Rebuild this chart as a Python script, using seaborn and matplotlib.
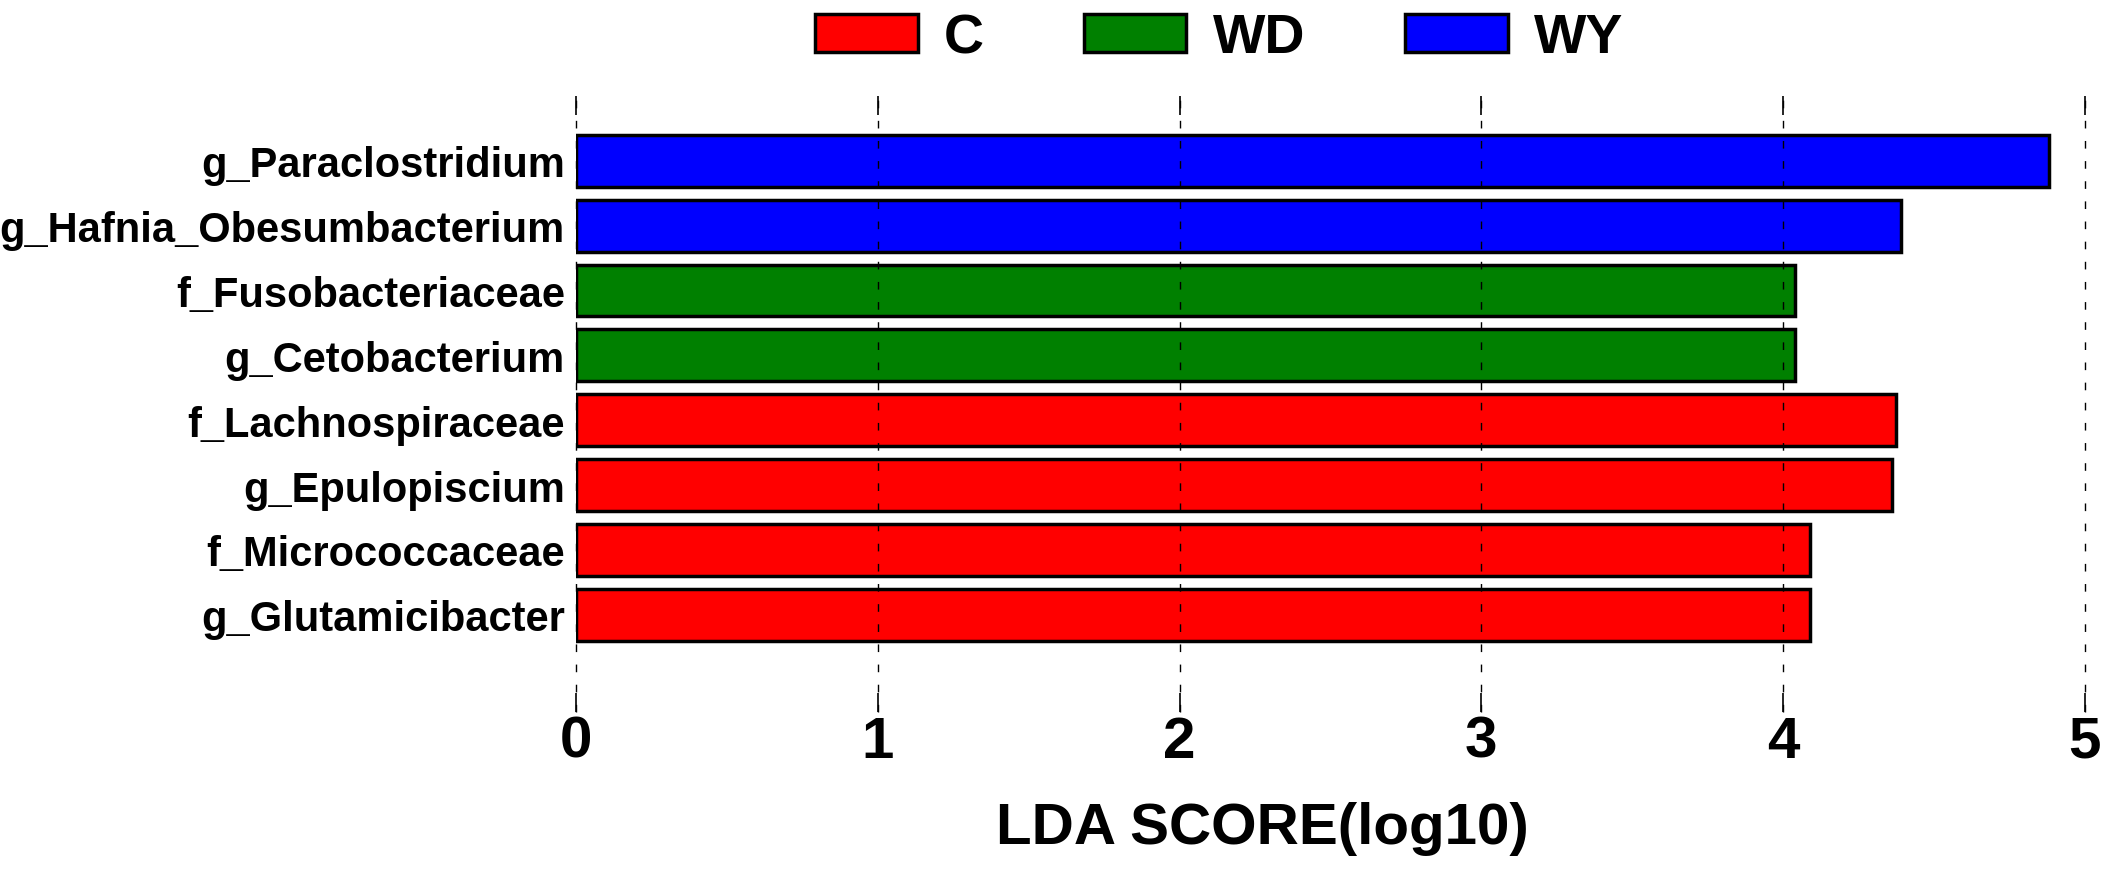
"""LEfSe LDA score bar chart."""

import matplotlib

matplotlib.use("Agg")
import matplotlib.pyplot as plt
import pandas as pd
import seaborn as sns
from matplotlib.patches import Patch

TAXA = [
    "g_Paraclostridium",
    "g_Hafnia_Obesumbacterium",
    "f_Fusobacteriaceae",
    "g_Cetobacterium",
    "f_Lachnospiraceae",
    "g_Epulopiscium",
    "f_Micrococcaceae",
    "g_Glutamicibacter",
]
LDA_SCORES = [4.88, 4.39, 4.04, 4.04, 4.375, 4.36, 4.09, 4.088]
GROUPS = ["WY", "WY", "WD", "WD", "C", "C", "C", "C"]

GROUP_ORDER = ["C", "WD", "WY"]
COLORS = {"C": "#ff0000", "WD": "#008000", "WY": "#0000ff"}
X_TICKS = [0, 1, 2, 3, 4, 5]

FONT = ["Liberation Sans", "DejaVu Sans"]


def main():
    sns.set_theme(style="white")
    plt.rcParams["font.family"] = FONT
    plt.rcParams["font.weight"] = "bold"
    for key in ("text.color", "axes.labelcolor", "xtick.color", "ytick.color"):
        plt.rcParams[key] = "black"

    df = pd.DataFrame({"taxon": TAXA, "score": LDA_SCORES, "group": GROUPS})

    fig = plt.figure(figsize=(21.09, 8.7), dpi=100)
    ax = fig.add_axes([0.2731, 0.1805, 0.9886 - 0.2731, 0.8885 - 0.1805])

    sns.barplot(
        data=df,
        x="score",
        y="taxon",
        hue="group",
        hue_order=GROUP_ORDER,
        palette=COLORS,
        saturation=1,
        dodge=False,
        width=0.8,
        edgecolor="black",
        linewidth=2.5,
        legend=False,
        ax=ax,
    )

    ax.set_xlim(0, 5)
    ax.set_ylim(8.5, -1.0)
    ax.set_xticks(X_TICKS)
    ax.set_xticklabels([str(t) for t in X_TICKS], fontsize=42, fontweight="bold")
    ax.tick_params(
        axis="x",
        direction="in",
        length=14,
        width=1.2,
        color="black",
        top=True,
        bottom=True,
        pad=2,
    )
    ax.tick_params(axis="y", length=0, pad=8, labelsize=30)
    for lab in ax.get_yticklabels():
        lab.set_fontweight("bold")

    for s in ax.spines.values():
        s.set_visible(False)

    ax.set_axisbelow(False)
    ax.xaxis.grid(True, color="black", linewidth=1.0, linestyle=(0, (5.5, 9)))
    for gl in ax.get_xgridlines():
        gl.set_clip_on(False)
    ax.yaxis.grid(False)

    ax.set_ylabel("")
    ax.set_xlabel("LDA SCORE(log10)", fontsize=42, fontweight="bold")
    ax.xaxis.set_label_coords(0.4546, -0.145)

    handles = [
        Patch(facecolor=COLORS[g], edgecolor="black", linewidth=2.5, label=g)
        for g in GROUP_ORDER
    ]
    fig.legend(
        handles=handles,
        loc="center",
        bbox_to_anchor=(0.578, 0.955),
        ncol=3,
        frameon=False,
        prop={"size": 40, "weight": "bold"},
        handlelength=1.85,
        handleheight=0.68,
        handletextpad=0.47,
        columnspacing=1.8,
        borderpad=0,
    )

    fig.savefig("out.png", dpi=100)


if __name__ == "__main__":
    main()
